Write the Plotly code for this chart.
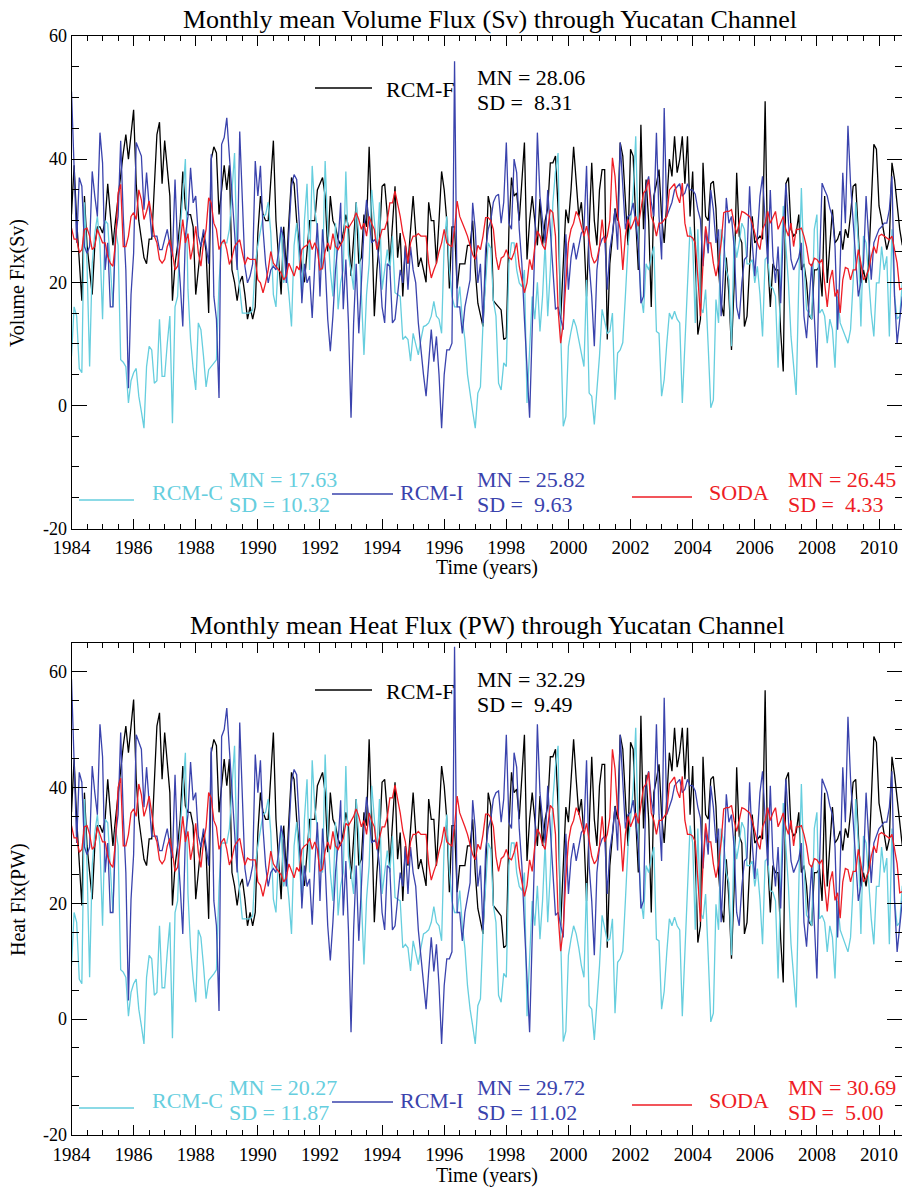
import numpy as np
import plotly.graph_objects as go

W, H = 902, 1187
FONT = "Liberation Serif"

# ---------------- Volume flux (Sv), monthly Jan 1984 - Oct 2010 ----------------
vol_rcmf = [
 31, 39, 30, 24, 17, 34, 26, 22, 18, 26, 29, 29,
 28, 30, 36, 31, 26, 30, 34, 38, 41, 44, 40, 44,
 48, 36, 30, 27, 24, 23, 27, 27, 36, 44, 46, 36,
 43, 39, 34, 17, 23, 26, 30, 38, 32, 31, 31, 29,
 18, 22, 26, 28, 25, 15, 40, 42, 41, 31, 35, 39,
 35, 39, 22, 20, 17, 20, 21, 18, 14, 16, 14, 16,
 28, 34, 31, 30, 30, 36, 43, 30, 24, 18, 29, 22,
 30, 37, 36, 30, 26, 22, 20, 25, 30, 30, 30, 35,
 36, 37, 34, 25, 34, 30, 29, 27, 26, 28, 31, 29,
 21, 28, 33, 23, 24, 31, 29, 42, 30, 14.5, 22, 27,
 35.6, 36, 31, 23, 30, 35.6, 24, 28, 17.7, 26, 23, 28,
 34, 28, 22.5, 24, 22, 20, 33, 30, 30, 23, 30, 38,
 35, 30, 19, 29, 29, 19, 23, 23, 23, 26, 26, 30,
 22, 16.6, 14.5, 12.8, 22, 34, 32, 17, 16.5, 16, 15.5, 10.7,
 11, 28.6, 37, 34, 34.5, 30, 36, 42.7, 23.7, 30, 34, 30,
 26, 33.5, 26, 30, 32, 39.4, 39.4, 40.5, 32, 14, 22, 31.8,
 29.6, 35, 42, 36, 30.7, 33, 27.5, 17.7, 28, 39.4, 30, 26,
 35, 38.3, 38.3, 10.7, 23, 28, 32, 30, 42.7, 40.5, 33, 26,
 41.6, 40.5, 30, 22, 45.6, 28.6, 36.7, 30, 16, 34, 36, 38.3,
 30.7, 26.4, 33, 40, 37.2, 43.7, 37.8, 40, 43.7, 36, 43.7, 30.7,
 38, 24, 11.5, 14, 39.4, 30.7, 30, 36, 36.4, 32, 22, 16.6,
 14.5, 24, 18, 9, 19.4, 37.8, 27.5, 26.4, 12.8, 14.5, 22, 30.7,
 26.4, 27, 27.5, 27, 49.4, 23.7, 16, 23, 22, 22, 12, 5.5,
 36, 37, 28.6, 27.5, 28, 31, 22, 23, 20, 14.5, 14, 22,
 22, 22.6, 17.7, 34, 19.9, 26, 31.8, 26.4, 27, 28.3, 25.3, 28.6,
 27.2, 31, 35.6, 36, 27.5, 19.9, 22, 19.9, 23, 32, 42.4, 41.6,
 32.4, 30.2, 28, 25.3, 27, 39.4, 36.7, 33, 28.6, 26,
]

vol_rcmc = [
 8, 16, 14.5, 6, 5.3, 33, 23, 6.3, 23, 28, 30.7, 26,
 14, 30, 29.5, 22, 16, 28.6, 26, 7.4, 7, 6.3, 0.4, 4,
 5.3, 6, 1.5, -1, -3.7, 6.3, 9.6, 9, 3.6, 4, 14, 4.7,
 4.7, 10, 14.5, -2.9, 16, 17.7, 28.6, 34, 40, 18.8, 10.7, 6,
 2.5, 13.4, 12.3, 8, 3, 5.8, 6.3, 6.8, 7.4, 19.9, 26.4, 26.4,
 26.4, 28.6, 35, 41, 23, 19.3, 15, 15, 15, 15, 15.5, 23,
 26, 28.6, 30.7, 31, 33, 28, 18, 16, 24.4, 29, 19.9, 22,
 18, 12.8, 26, 29.6, 23, 17.7, 30, 36, 22, 38.9, 31.8, 28.6,
 24, 22, 39.7, 28.6, 22, 17.7, 29.6, 15.6, 20, 22, 38, 24.4,
 22, 18.8, 33, 27.5, 18, 8.2, 18, 23, 35, 30, 25.3, 33,
 18.8, 22, 25.3, 22, 27.5, 18.3, 18, 17.7, 10.7, 11.2, 10.7, 7.2,
 11.7, 10, 8.2, 10.7, 12.8, 13, 13.4, 14.5, 16.9, 14.5, 14, 11.7,
 26.4, 30.7, 22, 17.7, 16, 16, 19.3, 14, 10.7, 5, 1.5, -1,
 -3.7, 2, 3, 13.4, 20, 26.4, 25.5, 17, 14.5, 3.6, 2.5, 6.9,
 6.3, 23, 26.4, 26.4, 22, 19.9, 19.3, 22, 0.4, 8, 17.7, 14,
 20, 12, 17.7, 26.4, 14.5, 22, 33, 38, 41, 12.3, -3.4, -1.8,
 9.6, 12, 14, 12.8, 10.7, 8, 6.3, 20.4, 2, 1.5, -3.1, 2.5,
 8, 15.6, 13.4, 11.7, 12, 15, 0.9, 8.5, 9, 10.2, 17.7, 25.8,
 30, 34.5, 43.7, 26.4, 18, 15, 23, 22, 24, 25.8, 12, 11.7,
 1.5, 4.2, 10, 15, 14, 15.3, 14, 13.4, 0.4, 10, 22, 29,
 26.4, 13.4, 28.6, 16, 15, 18.8, 9.6, -0.4, 0.9, 17.2, 13.4, 28.6,
 26.4, 22, 20.4, 9.6, 27.5, 24, 26.4, 29.6, 28.6, 23, 23, 23.7,
 19.9, 22.6, 18, 11.2, 23.7, 24.2, 19.3, 19, 17.7, 6.1, 20.4, 32.4,
 26, 19.9, 11.2, 6.9, 1.7, 19.9, 35.3, 23, 15.6, 15, 14, 28.6,
 31, 15, 15.6, 14.5, 10.1, 14, 12.3, 6.1, 17.7, 13.4, 12.3, 11,
 10.1, 12.3, 20, 33, 26.4, 12.8, 27.5, 26.4, 20, 15, 11.2, 19.9,
 19.9, 25.8, 22, 24.2, 11.2, 28.6, 17.7, 14, 14.5, 20,
]

vol_rcmi = [
 51, 36.7, 26.4, 37, 35.6, 25.8, 24.7, 25.8, 38, 34, 30.7, 44.3,
 39.4, 22, 26.4, 16, 16, 27.5, 30.7, 43, 30.7, 22, 2.8, 18,
 24.7, 42.7, 41.6, 40.5, 31.8, 37.8, 32.4, 27.5, 27.5, 27.5, 25.3, 25.3,
 27, 28.6, 26, 24.2, 36.7, 25.8, 19.9, 12.8, 27.5, 30.7, 38.6, 32.9,
 34, 27.5, 25.8, 28.6, 26, 23, 40.8, 17.7, 14, 1.2, 42.4, 43.5,
 46.7, 40.5, 34, 27, 22, 44.5, 34, 22.6, 19.9, 21, 23, 39.7,
 34, 38.9, 28.6, 23, 19.9, 22, 22.6, 22, 25, 29, 27, 19.9,
 28, 35.6, 37.5, 36.7, 29.6, 16.6, 23, 19.9, 21, 14.2, 23, 29.6,
 17.7, 28.6, 23, 14, 8.8, 14.5, 22, 26.4, 32.9, 15.6, 23.7, 13.4,
 -2, 13.4, 23, 11.7, 19.9, 28.6, 33.4, 30, 26.4, 26.9, 26.4, 23,
 16, 13.4, 23, 22.6, 13.4, 14, 17.7, 22, 19.9, 25.8, 18.8, 25.8,
 22, 19.9, 13.4, 9, 5, 1.5, 7.1, 12.3, 7.1, 11.2, 5, -3.7,
 5, 9, 9, 10.1, 55.9, 16, 16, 11.7, 16, 18, 20.4, 32.9,
 28.6, 19.9, 23, 13.4, 25.3, 28.6, 30, 33, 34, 34.3, 29.6, 33,
 42.7, 29.6, 28.6, 40, 37.8, 28.6, 23, 14, 6.9, -2, 12.3, 25.8,
 44.3, 34, 30, 26.4, 35, 28.6, 23, 15.6, 16, 14, 12.3, 27.8,
 18.8, 24, 26.4, 23.7, 25.8, 28, 28.6, 38.9, 23, 17.7, 9.6, 22,
 25.8, 27, 27.5, 18.8, 25.3, 28, 31.8, 25.3, 42.7, 35, 28.6, 30.7,
 31, 32.9, 29.6, 26.4, 16.6, 17.7, 35.6, 37.2, 33, 30.7, 44.3, 30.7,
 23.7, 48.3, 30.7, 31.8, 33, 35, 35.6, 36, 34, 34.5, 36, 35,
 35, 34.3, 31.8, 30.2, 22.6, 28.6, 24.7, 35, 31.8, 26.4, 28.6, 14.5,
 23, 33.7, 29.6, 30.7, 25.8, 16, 14, 19.9, 23.7, 24.2, 35.6, 26.4,
 21, 28.6, 34, 37.2, 30.7, 23, 35, 24.2, 19.9, 25.8, 16.6, 28,
 36, 29.6, 23.7, 22, 23, 24, 26.4, 14.5, 10.9, 17.7, 23, 14.5,
 6.1, 23, 36.1, 35, 34, 32, 30.7, 25.8, 12.3, 23, 37.8, 29.6,
 45.4, 36, 29.6, 24.2, 17.7, 20, 23, 34, 26.4, 20.4, 26.4, 27.5,
 28.6, 29, 29.6, 29.6, 31.8, 37.2, 17.7, 10.1, 14.5, 17.7,
]

vol_soda = [
 28.8, 27, 27, 24.8, 25.3, 28.6, 28.8, 27.5, 25.3, 25.8, 28.6, 27.5,
 26.4, 26.4, 24.2, 23.1, 22.6, 26.4, 34.5, 35.9, 25.8, 25.8, 27.5, 30.7,
 31.3, 30.2, 35, 33.4, 30.2, 31.5, 33.2, 30.7, 27.5, 26.4, 23.7, 23.1,
 23.7, 25.8, 26.9, 24.8, 22, 22.6, 26.4, 30.2, 26.4, 27.9, 23.7, 25.8,
 29.1, 24.8, 22.6, 26.4, 28.6, 33.7, 32.9, 29.6, 28.6, 25.3, 26.4, 26.9,
 25.3, 22.9, 24, 25.8, 26.4, 26.9, 24.8, 22.9, 24, 23.7, 23.7, 23.7,
 20.4, 19.9, 18.3, 19.9, 22, 25, 23.1, 22.5, 22, 21.5, 20.4, 21,
 23.1, 22, 21, 22.6, 22, 25.3, 25.8, 26, 26.9, 25.3, 26.4, 25.3,
 22, 22.3, 25, 26.4, 25.3, 27.9, 25.8, 25.3, 26, 26.9, 29.1, 28.8,
 29.5, 30.2, 31.3, 30.2, 28.6, 29.6, 27.5, 30.7, 29.5, 28.6, 25.3, 26.9,
 28.6, 28.6, 30, 32.9, 32.9, 34.8, 32.9, 30.7, 28, 26.4, 23.1, 26.4,
 27.5, 27.5, 27.9, 27.5, 27.5, 27.5, 23.1, 20.7, 22, 23.1, 25, 26.4,
 28.6, 26.4, 26, 25.8, 28.6, 33.2, 30.7, 29.5, 28.6, 27.5, 25.8, 24.5,
 23.7, 26, 25.3, 27.5, 30.5, 30.5, 30, 28.6, 24.2, 22, 23.9, 24.2,
 25.3, 24, 23.7, 24.8, 26.4, 22.6, 20.4, 18.3, 19.9, 23.7, 22, 25.8,
 28.3, 27.5, 26, 25.3, 28.6, 31.8, 31.3, 27.5, 15.6, 10.1, 13.4, 21,
 26.4, 28.6, 29.6, 31.5, 30.7, 29.1, 27.5, 29.1, 27, 24.2, 23.1, 23.7,
 25.8, 30.2, 26.4, 27.5, 30, 40.2, 37.2, 30.7, 28.6, 22, 27.5, 30.2,
 28.6, 29.6, 30.7, 29.1, 31.8, 34.5, 35, 36.7, 30.7, 29.6, 27.5, 29.6,
 29.6, 30.2, 30.7, 35, 35.6, 36, 34, 32.9, 36.1, 29.6, 27.5, 27.5,
 27.2, 26.4, 20.9, 14.5, 23.1, 29.1, 26.4, 26.4, 23.1, 21, 23.1, 26.4,
 31.3, 31.5, 31.5, 31.8, 29.6, 27.9, 29.6, 31.5, 31.3, 31, 30.7, 29.6,
 27.9, 26.4, 25.3, 28.6, 29.6, 31.5, 29.6, 30.7, 31.5, 28.6, 29.6, 30.7,
 28.6, 27.5, 29.6, 25.8, 28.6, 28.6, 28.8, 27.5, 25.8, 23.1, 22.6, 23.9,
 23.7, 23.1, 23.7, 19.9, 16, 20.4, 22, 17.7, 18.8, 15, 20.4, 22.4,
 22.2, 20.4, 22, 22, 25.3, 23.1, 20.4, 21, 22, 24.2, 25.8, 24.7,
 27.5, 27.8, 27.5, 27.2, 26.9, 27.5, 25.3, 23.1, 18.8, 19,
]

# ---------------- Heat flux (PW), monthly Jan 1984 - Oct 2010 ----------------
heat_rcmf = [
 35.7, 44.9, 34.5, 27.6, 19.6, 39.1, 29.9, 25.3, 20.7, 29.9, 33.4, 33.4,
 32.2, 34.5, 41.4, 35.7, 29.9, 34.5, 39.1, 43.7, 47.2, 50.6, 46, 50.6,
 55.2, 41.4, 34.5, 31.1, 27.6, 26.5, 31.1, 31.1, 41.4, 50.6, 52.9, 41.4,
 49.5, 44.9, 39.1, 19.6, 26.5, 29.9, 34.5, 43.7, 36.8, 35.7, 35.7, 33.4,
 20.7, 25.3, 29.9, 32.2, 28.8, 17.3, 46, 48.3, 47.2, 35.7, 40.3, 44.9,
 40.3, 44.9, 25.3, 23, 19.6, 23, 24.2, 20.7, 16.1, 18.4, 16.1, 18.4,
 32.2, 39.1, 35.7, 34.5, 34.5, 41.4, 49.5, 34.5, 27.6, 20.7, 33.4, 25.3,
 34.5, 42.6, 41.4, 34.5, 29.9, 25.3, 23, 28.8, 34.5, 34.5, 34.5, 40.3,
 41.4, 42.6, 39.1, 28.8, 39.1, 34.5, 33.4, 31.1, 29.9, 32.2, 35.7, 33.4,
 24.2, 32.2, 38, 26.5, 27.6, 35.7, 33.4, 48.3, 34.5, 16.7, 25.3, 31.1,
 40.9, 41.4, 35.7, 26.5, 34.5, 40.9, 27.6, 32.2, 20.4, 29.9, 26.5, 32.2,
 39.1, 32.2, 25.9, 27.6, 25.3, 23, 38, 34.5, 34.5, 26.5, 34.5, 43.7,
 40.3, 34.5, 21.9, 33.4, 33.4, 21.9, 26.5, 26.5, 26.5, 29.9, 29.9, 34.5,
 25.3, 19.1, 16.7, 14.7, 25.3, 39.1, 36.8, 19.6, 19, 18.4, 17.8, 12.3,
 12.7, 32.9, 42.6, 39.1, 39.7, 34.5, 41.4, 49.1, 27.3, 34.5, 39.1, 34.5,
 29.9, 38.5, 29.9, 34.5, 36.8, 45.3, 45.3, 46.6, 36.8, 16.1, 25.3, 36.6,
 34, 40.3, 48.3, 41.4, 35.3, 38, 31.6, 20.4, 32.2, 45.3, 34.5, 29.9,
 40.3, 44, 44, 12.3, 26.5, 32.2, 36.8, 34.5, 49.1, 46.6, 38, 29.9,
 47.8, 46.6, 34.5, 25.3, 52.4, 32.9, 42.2, 34.5, 18.4, 39.1, 41.4, 44,
 35.3, 30.4, 38, 46, 42.8, 50.3, 43.5, 46, 50.3, 41.4, 50.3, 35.3,
 43.7, 27.6, 13.2, 16.1, 45.3, 35.3, 34.5, 41.4, 41.9, 36.8, 25.3, 19.1,
 16.7, 27.6, 20.7, 10.4, 22.3, 43.5, 31.6, 30.4, 14.7, 16.7, 25.3, 35.3,
 30.4, 31.1, 31.6, 31.1, 56.8, 27.3, 18.4, 26.5, 25.3, 25.3, 13.8, 6.3,
 41.4, 42.6, 32.9, 31.6, 32.2, 35.7, 25.3, 26.5, 23, 16.7, 16.1, 25.3,
 25.3, 26, 20.4, 39.1, 22.9, 29.9, 36.6, 30.4, 31.1, 32.5, 29.1, 32.9,
 31.3, 35.7, 40.9, 41.4, 31.6, 22.9, 25.3, 22.9, 26.5, 36.8, 48.8, 47.8,
 37.3, 34.7, 32.2, 29.1, 31.1, 45.3, 42.2, 38, 32.9, 29.9,
]

heat_rcmc = [
 9.2, 18.4, 16.7, 6.9, 6.1, 38, 26.5, 7.2, 26.5, 32.2, 35.3, 29.9,
 16.1, 34.5, 33.9, 25.3, 18.4, 32.9, 29.9, 8.5, 8.1, 7.2, 0.5, 4.6,
 6.1, 6.9, 1.7, -1.2, -4.3, 7.2, 11, 10.4, 4.1, 4.6, 16.1, 5.4,
 5.4, 11.5, 16.7, -3.3, 18.4, 20.4, 32.9, 39.1, 46, 21.6, 12.3, 6.9,
 2.9, 15.4, 14.1, 9.2, 3.5, 6.7, 7.2, 7.8, 8.5, 22.9, 30.4, 30.4,
 30.4, 32.9, 40.3, 47.2, 26.5, 22.2, 17.3, 17.3, 17.3, 17.3, 17.8, 26.5,
 29.9, 32.9, 35.3, 35.7, 38, 32.2, 20.7, 18.4, 28.1, 33.4, 22.9, 25.3,
 20.7, 14.7, 29.9, 34, 26.5, 20.4, 34.5, 41.4, 25.3, 44.7, 36.6, 32.9,
 27.6, 25.3, 45.7, 32.9, 25.3, 20.4, 34, 17.9, 23, 25.3, 43.7, 28.1,
 25.3, 21.6, 38, 31.6, 20.7, 9.4, 20.7, 26.5, 40.3, 34.5, 29.1, 38,
 21.6, 25.3, 29.1, 25.3, 31.6, 21, 20.7, 20.4, 12.3, 12.9, 12.3, 8.3,
 13.5, 11.5, 9.4, 12.3, 14.7, 15, 15.4, 16.7, 19.4, 16.7, 16.1, 13.5,
 30.4, 35.3, 25.3, 20.4, 18.4, 18.4, 22.2, 16.1, 12.3, 5.8, 1.7, -1.2,
 -4.3, 2.3, 3.5, 15.4, 23, 30.4, 29.3, 19.6, 16.7, 4.1, 2.9, 7.9,
 7.2, 26.5, 30.4, 30.4, 25.3, 22.9, 22.2, 25.3, 0.5, 9.2, 20.4, 16.1,
 23, 13.8, 20.4, 30.4, 16.7, 25.3, 38, 43.7, 47.2, 14.1, -3.9, -2.1,
 11, 13.8, 16.1, 14.7, 12.3, 9.2, 7.2, 23.5, 2.3, 1.7, -3.6, 2.9,
 9.2, 17.9, 15.4, 13.5, 13.8, 17.3, 1, 9.8, 10.4, 11.7, 20.4, 29.7,
 34.5, 39.7, 50.3, 30.4, 20.7, 17.3, 26.5, 25.3, 27.6, 29.7, 13.8, 13.5,
 1.7, 4.8, 11.5, 17.3, 16.1, 17.6, 16.1, 15.4, 0.5, 11.5, 25.3, 33.4,
 30.4, 15.4, 32.9, 18.4, 17.3, 21.6, 11, -0.5, 1, 19.8, 15.4, 32.9,
 30.4, 25.3, 23.5, 11, 31.6, 27.6, 30.4, 34, 32.9, 26.5, 26.5, 27.3,
 22.9, 26, 20.7, 12.9, 27.3, 27.8, 22.2, 21.9, 20.4, 7, 23.5, 37.3,
 29.9, 22.9, 12.9, 7.9, 2, 22.9, 40.6, 26.5, 17.9, 17.3, 16.1, 32.9,
 35.7, 17.3, 17.9, 16.7, 11.6, 16.1, 14.1, 7, 20.4, 15.4, 14.1, 12.7,
 11.6, 14.1, 23, 38, 30.4, 14.7, 31.6, 30.4, 23, 17.3, 12.9, 22.9,
 22.9, 29.7, 25.3, 27.8, 12.9, 32.9, 20.4, 16.1, 16.7, 23,
]

heat_rcmi = [
 58.7, 42.2, 30.4, 42.6, 40.9, 29.7, 28.4, 29.7, 43.7, 39.1, 35.3, 50.9,
 45.3, 25.3, 30.4, 18.4, 18.4, 31.6, 35.3, 49.5, 35.3, 25.3, 3.2, 20.7,
 28.4, 49.1, 47.8, 46.6, 36.6, 43.5, 37.3, 31.6, 31.6, 31.6, 29.1, 29.1,
 31.1, 32.9, 29.9, 27.8, 42.2, 29.7, 22.9, 14.7, 31.6, 35.3, 44.4, 37.8,
 39.1, 31.6, 29.7, 32.9, 29.9, 26.5, 46.9, 20.4, 16.1, 1.4, 48.8, 50,
 53.7, 46.6, 39.1, 31.1, 25.3, 51.2, 39.1, 26, 22.9, 24.2, 26.5, 45.7,
 39.1, 44.7, 32.9, 26.5, 22.9, 25.3, 26, 25.3, 28.8, 33.4, 31.1, 22.9,
 32.2, 40.9, 43.1, 42.2, 34, 19.1, 26.5, 22.9, 24.2, 16.3, 26.5, 34,
 20.4, 32.9, 26.5, 16.1, 10.1, 16.7, 25.3, 30.4, 37.8, 17.9, 27.3, 15.4,
 -2.3, 15.4, 26.5, 13.5, 22.9, 32.9, 38.4, 34.5, 30.4, 30.9, 30.4, 26.5,
 18.4, 15.4, 26.5, 26, 15.4, 16.1, 20.4, 25.3, 22.9, 29.7, 21.6, 29.7,
 25.3, 22.9, 15.4, 10.4, 5.8, 1.7, 8.2, 14.1, 8.2, 12.9, 5.8, -4.3,
 5.8, 10.4, 10.4, 11.6, 64.3, 18.4, 18.4, 13.5, 18.4, 20.7, 23.5, 37.8,
 32.9, 22.9, 26.5, 15.4, 29.1, 32.9, 34.5, 38, 39.1, 39.4, 34, 38,
 49.1, 34, 32.9, 46, 43.5, 32.9, 26.5, 16.1, 7.9, -2.3, 14.1, 29.7,
 50.9, 39.1, 34.5, 30.4, 40.3, 32.9, 26.5, 17.9, 18.4, 16.1, 14.1, 32,
 21.6, 27.6, 30.4, 27.3, 29.7, 32.2, 32.9, 44.7, 26.5, 20.4, 11, 25.3,
 29.7, 31.1, 31.6, 21.6, 29.1, 32.2, 36.6, 29.1, 49.1, 40.3, 32.9, 35.3,
 35.7, 37.8, 34, 30.4, 19.1, 20.4, 40.9, 42.8, 38, 35.3, 50.9, 35.3,
 27.3, 55.5, 35.3, 36.6, 38, 40.3, 40.9, 41.4, 39.1, 39.7, 41.4, 40.3,
 40.3, 39.4, 36.6, 34.7, 26, 32.9, 28.4, 40.3, 36.6, 30.4, 32.9, 16.7,
 26.5, 38.8, 34, 35.3, 29.7, 18.4, 16.1, 22.9, 27.3, 27.8, 40.9, 30.4,
 24.2, 32.9, 39.1, 42.8, 35.3, 26.5, 40.3, 27.8, 22.9, 29.7, 19.1, 32.2,
 41.4, 34, 27.3, 25.3, 26.5, 27.6, 30.4, 16.7, 12.5, 20.4, 26.5, 16.7,
 7, 26.5, 41.5, 40.3, 39.1, 36.8, 35.3, 29.7, 14.1, 26.5, 43.5, 34,
 52.2, 41.4, 34, 27.8, 20.4, 23, 26.5, 39.1, 30.4, 23.5, 30.4, 31.6,
 32.9, 33.4, 34, 34, 36.6, 42.8, 20.4, 11.6, 16.7, 20.4,
]

heat_soda = [
 33.4, 31.3, 31.3, 28.8, 29.3, 33.2, 33.4, 31.9, 29.3, 29.9, 33.2, 31.9,
 30.6, 30.6, 28.1, 26.8, 26.2, 30.6, 40, 41.6, 29.9, 29.9, 31.9, 35.6,
 36.3, 35, 40.6, 38.7, 35, 36.5, 38.5, 35.6, 31.9, 30.6, 27.5, 26.8,
 27.5, 29.9, 31.2, 28.8, 25.5, 26.2, 30.6, 35, 30.6, 32.4, 27.5, 29.9,
 33.8, 28.8, 26.2, 30.6, 33.2, 39.1, 38.2, 34.3, 33.2, 29.3, 30.6, 31.2,
 29.3, 26.6, 27.8, 29.9, 30.6, 31.2, 28.8, 26.6, 27.8, 27.5, 27.5, 27.5,
 23.7, 23.1, 21.2, 23.1, 25.5, 29, 26.8, 26.1, 25.5, 24.9, 23.7, 24.4,
 26.8, 25.5, 24.4, 26.2, 25.5, 29.3, 29.9, 30.2, 31.2, 29.3, 30.6, 29.3,
 25.5, 25.9, 29, 30.6, 29.3, 32.4, 29.9, 29.3, 30.2, 31.2, 33.8, 33.4,
 34.2, 35, 36.3, 35, 33.2, 34.3, 31.9, 35.6, 34.2, 33.2, 29.3, 31.2,
 33.2, 33.2, 34.8, 38.2, 38.2, 40.4, 38.2, 35.6, 32.5, 30.6, 26.8, 30.6,
 31.9, 31.9, 32.4, 31.9, 31.9, 31.9, 26.8, 24, 25.5, 26.8, 29, 30.6,
 33.2, 30.6, 30.2, 29.9, 33.2, 38.5, 35.6, 34.2, 33.2, 31.9, 29.9, 28.4,
 27.5, 30.2, 29.3, 31.9, 35.4, 35.4, 34.8, 33.2, 28.1, 25.5, 27.7, 28.1,
 29.3, 27.8, 27.5, 28.8, 30.6, 26.2, 23.7, 21.2, 23.1, 27.5, 25.5, 29.9,
 32.8, 31.9, 30.2, 29.3, 33.2, 36.9, 36.3, 31.9, 18.1, 11.7, 15.5, 24.4,
 30.6, 33.2, 34.3, 36.5, 35.6, 33.8, 31.9, 33.8, 31.3, 28.1, 26.8, 27.5,
 29.9, 35, 30.6, 31.9, 34.8, 46.6, 43.2, 35.6, 33.2, 25.5, 31.9, 35,
 33.2, 34.3, 35.6, 33.8, 36.9, 40, 40.6, 42.6, 35.6, 34.3, 31.9, 34.3,
 34.3, 35, 35.6, 40.6, 41.3, 41.8, 39.4, 38.2, 41.9, 34.3, 31.9, 31.9,
 31.6, 30.6, 24.2, 16.8, 26.8, 33.8, 30.6, 30.6, 26.8, 24.4, 26.8, 30.6,
 36.3, 36.5, 36.5, 36.9, 34.3, 32.4, 34.3, 36.5, 36.3, 36, 35.6, 34.3,
 32.4, 30.6, 29.3, 33.2, 34.3, 36.5, 34.3, 35.6, 36.5, 33.2, 34.3, 35.6,
 33.2, 31.9, 34.3, 29.9, 33.2, 33.2, 33.4, 31.9, 29.9, 26.8, 26.2, 27.7,
 27.5, 26.8, 27.5, 23.1, 18.6, 23.7, 25.5, 20.5, 21.8, 17.4, 23.7, 26,
 25.8, 23.7, 25.5, 25.5, 29.3, 26.8, 23.7, 24.4, 25.5, 28.1, 29.9, 28.7,
 31.9, 32.2, 31.9, 31.6, 31.2, 31.9, 29.3, 26.8, 21.8, 22,
]

series_names = ["RCM-F", "RCM-C", "RCM-I", "SODA"]
series_colors = ["#000000", "#66CEDE", "#3A43AD", "#EE1D25"]
vol_stats = [("28.06", "8.31"), ("17.63", "10.32"), ("25.82", "9.63"), ("26.45", "4.33")]
heat_stats = [("32.29", "9.49"), ("20.27", "11.87"), ("29.72", "11.02"), ("30.69", "5.00")]
year_ticks = list(range(1984, 2011, 2))
flux_ticks = [-20, 0, 20, 40, 60]
flux_ticktext = ["-20", "0", "20", "40", "60"]


def px(x):
    return x / W


def py(y):
    return 1 - y / H


fig = go.Figure()

vol_data = [vol_rcmf, vol_rcmc, vol_rcmi, vol_soda]
heat_data = [heat_rcmf, heat_rcmc, heat_rcmi, heat_soda]

for axis_id, data in (("", vol_data), ("2", heat_data)):
    for name, col, vals in zip(series_names, series_colors, data):
        t = 1984 + np.arange(len(vals)) / 12.0
        fig.add_trace(go.Scatter(
            x=t, y=vals, mode="lines", name=name,
            line=dict(color=col, width=1.3),
            xaxis="x" + axis_id, yaxis="y" + axis_id,
            showlegend=False, hoverinfo="skip"))

xdom = [px(71.5), 1.0]
common_x = dict(
    range=[1984, 2010.74], domain=xdom, showline=True, linecolor="black",
    linewidth=1, mirror="ticks", ticks="inside", ticklen=10, tickwidth=1,
    tickcolor="black", tickvals=year_ticks, ticktext=[str(v) for v in year_ticks],
    minor=dict(dtick=0.5, tick0=1984, ticklen=5, ticks="inside", tickcolor="black", showgrid=False),
    showgrid=False, zeroline=False, automargin=False, ticklabelstandoff=2,
    tickfont=dict(family=FONT, size=19, color="black"),
)
common_y = dict(
    showline=True, linecolor="black", linewidth=1, mirror="ticks",
    ticks="inside", ticklen=15, tickwidth=1, tickcolor="black",
    tickvals=flux_ticks, ticktext=flux_ticktext,
    minor=dict(dtick=5, tick0=-20, ticklen=7, ticks="inside", tickcolor="black", showgrid=False),
    showgrid=False, zeroline=False, automargin=False,
    tickfont=dict(family=FONT, size=18, color="black"),
)

fig.update_layout(
    width=W, height=H, autosize=False,
    margin=dict(l=0, r=0, t=0, b=0, pad=0),
    paper_bgcolor="white", plot_bgcolor="white",
    xaxis=dict(common_x, anchor="y"),
    yaxis=dict(common_y, range=[-20, 60], anchor="x",
               domain=[py(528.5), py(36)]),
    xaxis2=dict(common_x, anchor="y2"),
    yaxis2=dict(common_y, range=[-20, 65], anchor="x2",
                domain=[py(1134.8), py(642.7)]),
)

annotations = []
shapes = []


def text(x, y, s, size=22, color="black", anchor="left", angle=0):
    annotations.append(dict(
        x=px(x), y=py(y), xref="paper", yref="paper", text=s, showarrow=False,
        xanchor=anchor, yanchor="middle", textangle=angle, borderpad=0,
        font=dict(family=FONT, size=size, color=color)))


def seg(x0, x1, y, color):
    shapes.append(dict(type="line", xref="paper", yref="paper",
                       x0=px(x0), x1=px(x1), y0=py(y), y1=py(y),
                       line=dict(color=color, width=1.3)))


NB = "\u00a0"


def sd_text(v):
    return "SD =" + (NB + NB if len(v) < 5 else NB) + v


# Titles and axis titles
text(490, 19, "Monthly mean Volume Flux (Sv) through Yucatan Channel", size=26, anchor="center")
text(487, 625, "Monthly mean Heat Flux (PW) through Yucatan Channel", size=26, anchor="center")
text(487, 568, "Time (years)", size=20, anchor="center")
text(487, 1175, "Time (years)", size=20, anchor="center")
text(18, 283, "Volume Flx(Sv)", size=20, anchor="center", angle=-90)
text(18, 900, "Heat Flx(PW)", size=20, anchor="center", angle=-90)

# Legends
for dy_top, dy_bot, stats in ((0, 0, vol_stats), (602, 608, heat_stats)):
    c = series_colors[0]
    seg(315, 372, 88 + dy_top, c)
    text(385, 89 + dy_top, "RCM-F", color=c)
    text(476, 77 + dy_top, "MN = " + stats[0][0], color=c)
    text(476, 102 + dy_top, sd_text(stats[0][1]), color=c)
    rows = [(1, 79, 134, 500, 151, 228), (2, 332, 393, 494, 399, 476), (3, 632, 692, 497, 708, 787)]
    for k, l0, l1, ly, tx, sx in rows:
        c = series_colors[k]
        seg(l0, l1, ly + dy_bot, c)
        text(tx, 492 + dy_bot, series_names[k], color=c)
        text(sx, 479 + dy_bot, "MN = " + stats[k][0], color=c)
        text(sx, 504.5 + dy_bot, sd_text(stats[k][1]), color=c)

fig.update_layout(annotations=annotations, shapes=shapes)

fig.write_html("out.html", config={"displayModeBar": False})
